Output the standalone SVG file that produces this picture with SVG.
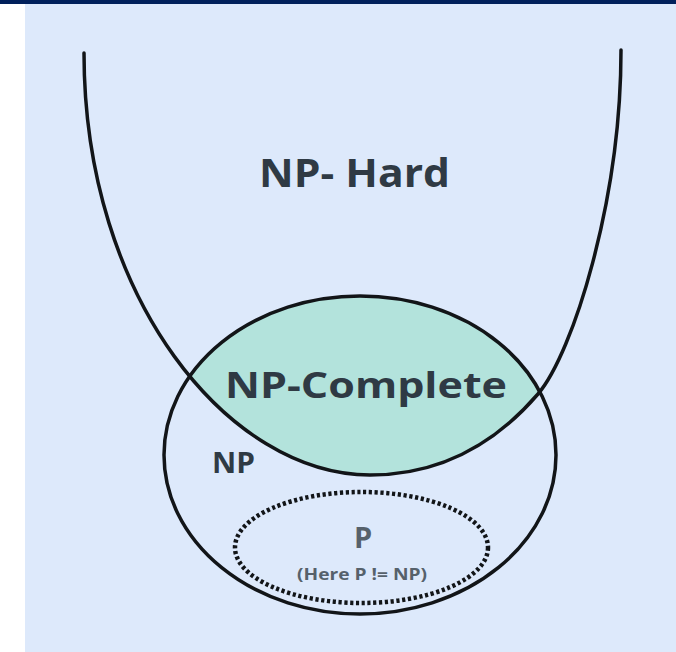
<svg xmlns="http://www.w3.org/2000/svg" width="676" height="652" viewBox="0 0 676 652">
<style>
.line{fill:none;stroke:#121518;stroke-width:3.5;stroke-linecap:round}
.lbl{font-family:"Open Sans","Liberation Sans",sans-serif;font-weight:700;fill:#2f3a44}
.sub{font-family:"Open Sans","Liberation Sans",sans-serif;font-weight:700;fill:#56616b}
</style>
<defs>
<clipPath id="uclip">
<path d="M84,53 C84,300 230,475 370,475 C430,475 488,452 538,394 C573,353 621,200 621,50 Z"/>
</clipPath>
</defs>
<rect x="0" y="0" width="676" height="652" fill="#ffffff"/>
<rect x="25" y="4" width="651" height="648" fill="#dde9fb"/>
<rect x="0" y="0" width="676" height="4" fill="#00205b"/>
<g id="np-complete">
<ellipse cx="360" cy="455" rx="196" ry="159" fill="#b3e3dc" clip-path="url(#uclip)"/>
<text class="lbl" x="366" y="398" font-size="35" text-anchor="middle" textLength="282" lengthAdjust="spacingAndGlyphs">NP-Complete</text>
</g>
<g id="np-hard">
<path class="line" d="M84,53 C84,300 230,475 370,475 C430,475 488,452 538,394 C573,353 621,200 621,50"/>
<text class="lbl" x="354.5" y="187" font-size="39" text-anchor="middle" textLength="191" lengthAdjust="spacingAndGlyphs">NP- Hard</text>
</g>
<g id="np">
<ellipse class="line" cx="360" cy="455" rx="196" ry="159"/>
<text class="lbl" x="233.5" y="473" font-size="29" text-anchor="middle" textLength="43" lengthAdjust="spacingAndGlyphs">NP</text>
</g>
<g id="p">
<ellipse cx="361.5" cy="547.5" rx="126.5" ry="55.5" fill="none" stroke="#121518" stroke-width="4.5" stroke-dasharray="3.2 2.6"/>
<text class="sub" x="363" y="548" font-size="29" text-anchor="middle">P</text>
<text class="sub" x="362" y="580" font-size="16" text-anchor="middle" textLength="130" lengthAdjust="spacingAndGlyphs">(Here P != NP)</text>
</g>
<g id="connectors"/>
</svg>
